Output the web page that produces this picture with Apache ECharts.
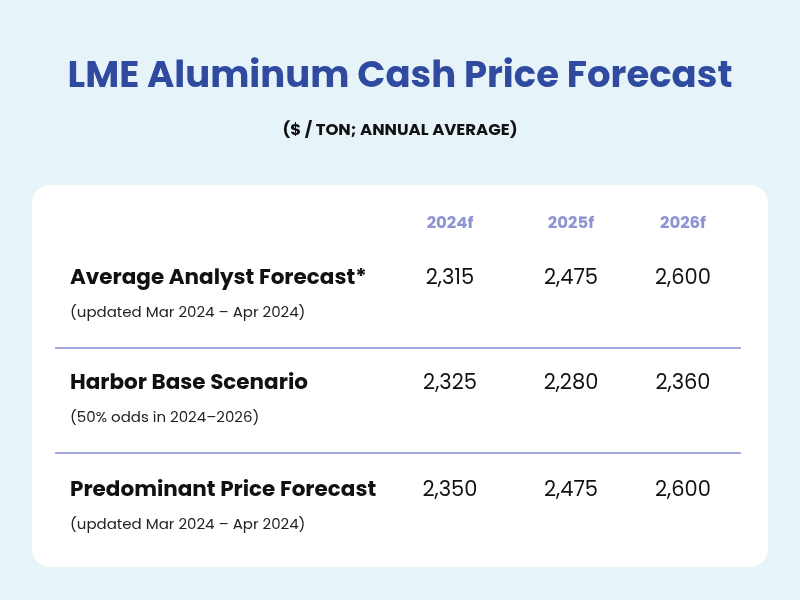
<!DOCTYPE html>
<html><head><meta charset="utf-8">
<script src="https://cdn.jsdelivr.net/npm/echarts@6/dist/echarts.min.js"></script>
<style>html,body{margin:0;padding:0;background:#E6F4F9}#c{width:800px;height:600px}</style>
</head><body><div id="c"></div>
<script>
const years = ['2024f','2025f','2026f'];
const rowLabels = ['Average Analyst Forecast*','Harbor Base Scenario','Predominant Price Forecast'];
const rowNotes = ['(updated Mar 2024 – Apr 2024)','(50% odds in 2024–2026)','(updated Mar 2024 – Apr 2024)'];
const values = [
  [2315, 2475, 2600],
  [2325, 2280, 2360],
  [2350, 2475, 2600]
];
const F = 'Poppins, "Open Sans", Lato, sans-serif';
const colX = [450, 571, 683];
const rowY = [279, 384, 491];
const fmt = v => v.toLocaleString('en-US');
const els = [];
els.push({type:'rect', shape:{x:32,y:185,width:736,height:382,r:18}, style:{fill:'#fff'}});
years.forEach((y,i)=>els.push({type:'text', x:colX[i], y:224, style:{text:y, font:'bold 16.5px '+F, fill:'#8E95D2', align:'center', verticalAlign:'middle'}}));
rowLabels.forEach((l,r)=>{
  els.push({type:'text', x:70, y:rowY[r], style:{text:l, font:'bold 21.5px '+F, fill:'#111', verticalAlign:'middle'}});
  els.push({type:'text', x:70, y:rowY[r]+34, style:{text:rowNotes[r], font:'15px '+F, fill:'#222', verticalAlign:'middle'}});
  values[r].forEach((v,i)=>els.push({type:'text', x:colX[i], y:rowY[r], style:{text:fmt(v), font:'21px '+F, fill:'#111', align:'center', verticalAlign:'middle'}}));
  if (r < rowLabels.length-1) els.push({type:'line', shape:{x1:55,y1:rowY[r]+69,x2:741,y2:rowY[r]+69}, style:{stroke:'#A3A8DC', lineWidth:2}});
});
const chart = echarts.init(document.getElementById('c'));
chart.setOption({
  backgroundColor:'#E6F4F9',
  title:[
    {text:'LME Aluminum Cash Price Forecast', left:'center', top:54, textStyle:{fontFamily:F, fontSize:37, fontWeight:'bold', color:'#2F4A9E'}},
    {text:'($ / TON; ANNUAL AVERAGE)', left:'center', top:117, textStyle:{fontFamily:F, fontSize:16.5, fontWeight:'bold', color:'#111'}}
  ],
  graphic: els
});
</script></body></html>
